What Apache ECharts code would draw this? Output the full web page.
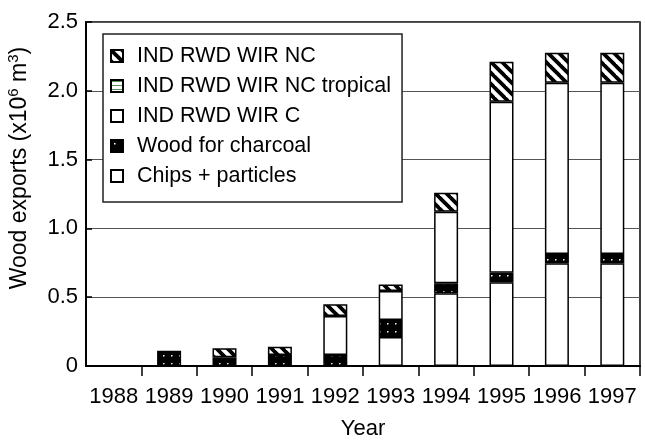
<!DOCTYPE html>
<html>
<head>
<meta charset="utf-8">
<script src="https://cdn.jsdelivr.net/npm/echarts@6/dist/echarts.min.js"></script>
<style>html,body{margin:0;padding:0;background:#fff}#chart{width:645px;height:444px}</style>
</head>
<body>
<div id="chart"></div>
<script>
// ---- data (10^6 m^3) ----
const years = ['1988','1989','1990','1991','1992','1993','1994','1995','1996','1997'];
const chipsParticles   = [0, 0, 0, 0, 0, 0.211, 0.528, 0.608, 0.746, 0.746];
const woodCharcoal     = [0, 0.111, 0.063, 0.080, 0.080, 0.124, 0.073, 0.070, 0.068, 0.068];
const wirC             = [0, 0, 0, 0, 0.283, 0.210, 0.520, 1.243, 1.245, 1.245];
const wirNCtropical    = [0, 0, 0, 0, 0, 0, 0, 0, 0, 0];
const wirNC            = [0, 0, 0.066, 0.060, 0.085, 0.047, 0.138, 0.291, 0.218, 0.218];
const yTicks = [0, 0.5, 1.0, 1.5, 2.0, 2.5];

const FONT = '"Liberation Sans", Arial, Helvetica, sans-serif';

function hatch() {
  const s = 11, c = document.createElement('canvas'); c.width = s; c.height = s;
  const g = c.getContext('2d');
  g.fillStyle = '#fff'; g.fillRect(0, 0, s, s);
  g.strokeStyle = '#000'; g.lineWidth = 3.8;
  for (let k = -s; k <= s; k += s) { g.beginPath(); g.moveTo(k - 2, -2); g.lineTo(k + s + 2, s + 2); g.stroke(); }
  return { image: c, repeat: 'repeat' };
}
function dots() {
  const s = 8, c = document.createElement('canvas'); c.width = s; c.height = s;
  const g = c.getContext('2d');
  g.fillStyle = '#000'; g.fillRect(0, 0, s, s);
  g.fillStyle = '#fff'; g.fillRect(3, 3, 1.5, 1.5);
  return { image: c, repeat: 'repeat' };
}
function hlines() {
  const c = document.createElement('canvas'); c.width = 4; c.height = 4;
  const g = c.getContext('2d');
  g.fillStyle = '#fff'; g.fillRect(0, 0, 4, 4);
  g.fillStyle = '#5b8f5b'; g.fillRect(0, 1, 4, 1);
  return { image: c, repeat: 'repeat' };
}

const defs = [
  { name: 'Chips + particles', data: chipsParticles, color: '#fff' },
  { name: 'Wood for charcoal', data: woodCharcoal, color: dots() },
  { name: 'IND RWD WIR C', data: wirC, color: '#fff' },
  { name: 'IND RWD WIR NC tropical', data: wirNCtropical, color: hlines() },
  { name: 'IND RWD WIR NC', data: wirNC, color: hatch() }
];

const series = defs.map(d => ({
  name: d.name, type: 'bar', stack: 'all', barWidth: 24,
  data: d.data.map(v => v === 0 ? null : v),
  itemStyle: { color: d.color, borderColor: '#000', borderWidth: 1.5 },
  emphasis: { disabled: true }
}));

const chart = echarts.init(document.getElementById('chart'), null, { renderer: 'canvas' });
chart.setOption({
  animation: false,
  backgroundColor: '#fff',
  textStyle: { fontFamily: FONT },
  grid: { left: 86, right: 5, top: 22, bottom: 78, containLabel: false, outerBoundsMode: 'none',
          show: true, borderColor: '#000', borderWidth: 1.5, backgroundColor: 'transparent' },
  legend: {
    orient: 'vertical', left: 103, top: 34,
    padding: [11, 11, 15, 7],
    backgroundColor: '#fff', borderColor: '#222', borderWidth: 1.5,
    itemWidth: 12, itemHeight: 12, itemGap: 8, icon: 'rect',
    textStyle: { fontFamily: FONT, fontSize: 21.5, lineHeight: 21, color: '#000', padding: [0, 0, 0, 9] },
    data: ['IND RWD WIR NC', 'IND RWD WIR NC tropical', 'IND RWD WIR C', 'Wood for charcoal', 'Chips + particles'],
    selectedMode: false
  },
  xAxis: {
    type: 'category', data: years, boundaryGap: true,
    name: 'Year', nameLocation: 'middle', nameGap: 52,
    nameTextStyle: { fontFamily: FONT, fontSize: 22, color: '#000' },
    axisLine: { show: true, onZero: false, lineStyle: { color: '#000', width: 2 } },
    axisTick: { show: true, length: 10, lineStyle: { color: '#000', width: 1.5 }, interval: (i) => i !== 0 },
    axisLabel: { fontFamily: FONT, fontSize: 22, color: '#000', margin: 20, interval: 0 }
  },
  yAxis: {
    type: 'value', min: 0, max: 2.5, interval: 0.5,
    name: 'Wood exports (x10{sup|6} m{sup|3})', nameLocation: 'middle', nameGap: 52,
    nameTextStyle: {
      fontFamily: FONT, fontSize: 23, color: '#000', padding: [0, 0, 0, 52],
      rich: { sup: { fontFamily: FONT, fontSize: 15, color: '#000', padding: [0, 0, 13, 0] } }
    },
    axisLine: { show: true, lineStyle: { color: '#000', width: 2 } },
    axisTick: { show: true, inside: true, length: 6, lineStyle: { color: '#000', width: 1.5 } },
    axisLabel: { fontFamily: FONT, fontSize: 22, color: '#000', margin: 8,
      formatter: v => { const t = yTicks.find(x => Math.abs(x - v) < 1e-9); return t === 0 ? '0' : (t !== undefined ? t.toFixed(1) : ''); } },
    splitLine: { show: true, lineStyle: { color: '#555', width: 1 } }
  },
  series: series
});
</script>
</body>
</html>
